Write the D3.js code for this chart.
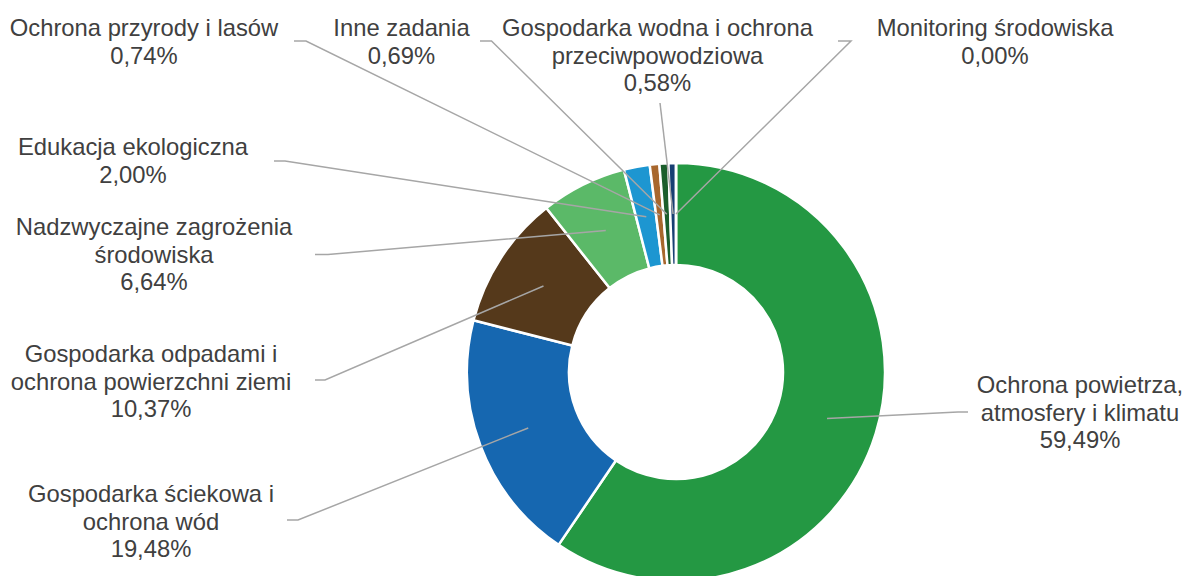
<!DOCTYPE html>
<html>
<head>
<meta charset="utf-8">
<script src="https://cdn.jsdelivr.net/npm/d3@7"></script>
<style>
  html, body { margin: 0; padding: 0; background: #fff; }
  svg { display: block; }
</style>
</head>
<body>
<svg id="chart" width="1186" height="576"></svg>
<script>
// ---- data ----
const categories = [
  "Ochrona powietrza, atmosfery i klimatu",
  "Gospodarka ściekowa i ochrona wód",
  "Gospodarka odpadami i ochrona powierzchni ziemi",
  "Nadzwyczajne zagrożenia środowiska",
  "Edukacja ekologiczna",
  "Ochrona przyrody i lasów",
  "Inne zadania",
  "Gospodarka wodna i ochrona przeciwpowodziowa",
  "Monitoring środowiska"
];
const values = [59.49, 19.48, 10.37, 6.64, 2.00, 0.74, 0.69, 0.58, 0.00];
const labelLines = [
  ["Ochrona powietrza,", "atmosfery i klimatu"],
  ["Gospodarka ściekowa i", "ochrona wód"],
  ["Gospodarka odpadami i", "ochrona powierzchni ziemi"],
  ["Nadzwyczajne zagrożenia", "środowiska"],
  ["Edukacja ekologiczna"],
  ["Ochrona przyrody i lasów"],
  ["Inne zadania"],
  ["Gospodarka wodna i ochrona", "przeciwpowodziowa"],
  ["Monitoring środowiska"]
];
const colors = ["#249843", "#1667B0", "#55391B", "#5BB968", "#1D96D1", "#A8672D", "#1B5E2C", "#173F73", "#7F7F7F"];

// ---- layout (label placement, as in the reference) ----
const labelLayout = [
  { cx: 1080, y: 393, elbow: [[958, 412], [968, 412]] },
  { cx: 151, y: 502, elbow: [[298, 520], [287, 520]] },
  { cx: 151, y: 362, elbow: [[325, 380], [315, 380]] },
  { cx: 154, y: 235, elbow: [[328, 254.5], [315, 254.5]] },
  { cx: 133, y: 155, elbow: [[285, 161], [274, 161]] },
  { cx: 144, y: 36,  elbow: [[306, 41], [294, 41]] },
  { cx: 401.5, y: 36, elbow: [[491.5, 41], [480, 41]] },
  { cx: 657.5, y: 36, elbow: [[660, 103]] },
  { cx: 995, y: 36, elbow: [[851, 41], [838, 41]] }
];

const fmt = v => v.toFixed(2).replace(".", ",") + "%";

const svg = d3.select("#chart");
const cx = 676, cy = 372, R = 209, r = 107;

const pie = d3.pie().value(d => d).sort(null);
const arcs = pie(values);
const arc = d3.arc().innerRadius(r).outerRadius(R);

const g = svg.append("g").attr("transform", `translate(${cx},${cy})`);
g.selectAll("path.slice")
  .data(arcs)
  .join("path")
  .attr("class", "slice")
  .attr("d", arc)
  .attr("fill", (d, i) => colors[i])
  .attr("stroke", "#fff")
  .attr("stroke-width", 2.5)
  .attr("stroke-linejoin", "round");

// leader lines
const line = d3.line();
svg.append("g").selectAll("path.leader")
  .data(arcs)
  .join("path")
  .attr("class", "leader")
  .attr("d", (d, i) => {
    const c = arc.centroid(d);
    const pts = [[cx + c[0], cy + c[1]]].concat(labelLayout[i].elbow);
    return line(pts);
  })
  .attr("fill", "none")
  .attr("stroke", "#A6A6A6")
  .attr("stroke-width", 1.5);

// labels
const lh = 27.5;
const labels = svg.append("g")
  .attr("font-family", "'Liberation Sans', Arial, sans-serif")
  .attr("font-size", "23.8px")
  .attr("fill", "#404040")
  .attr("text-anchor", "middle");
labels.selectAll("text")
  .data(arcs)
  .join("text")
  .attr("x", (d, i) => labelLayout[i].cx)
  .attr("y", (d, i) => labelLayout[i].y)
  .each(function (d, i) {
    const t = d3.select(this);
    const lines = labelLines[i].concat([fmt(values[i])]);
    lines.forEach((s, k) => {
      t.append("tspan")
        .attr("x", labelLayout[i].cx)
        .attr("dy", k === 0 ? 0 : lh)
        .text(s);
    });
  });
</script>
</body>
</html>
